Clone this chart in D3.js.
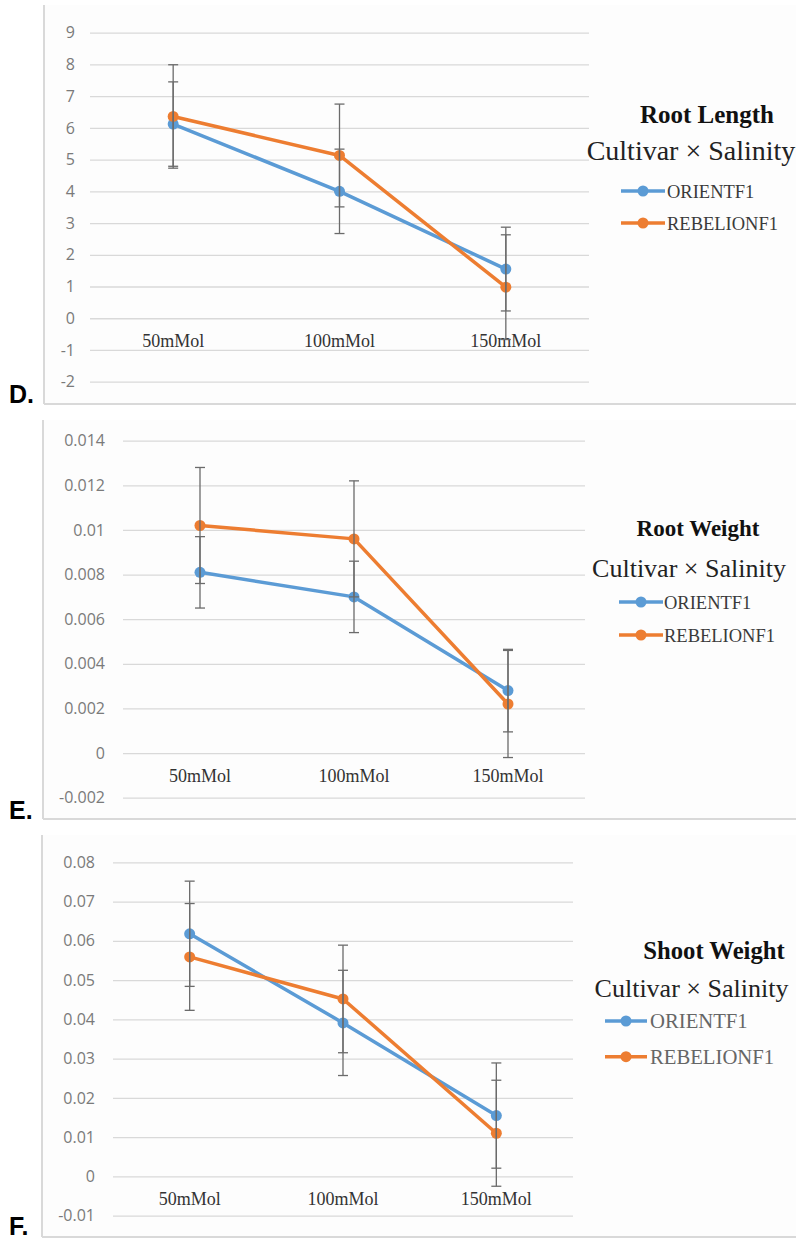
<!DOCTYPE html>
<html>
<head>
<meta charset="utf-8">
<script src="https://cdn.jsdelivr.net/npm/d3@7/dist/d3.min.js"></script>
<style>
  html, body { margin: 0; padding: 0; background: #ffffff; }
  svg { display: block; }
</style>
</head>
<body>
<svg id="chart" width="796" height="1239"></svg>
<script>
// ---------- DATA ----------
const categories = ["50mMol", "100mMol", "150mMol"];
const seriesNames = ["ORIENTF1", "REBELIONF1"];

// D. Root Length
const rootLengthTicks = [-2, -1, 0, 1, 2, 3, 4, 5, 6, 7, 8, 9];
const rootLengthOrient = [6.12, 4.00, 1.55];
const rootLengthOrientErr = [1.33, 1.33, 1.32];
const rootLengthRebel = [6.36, 5.13, 0.98];
const rootLengthRebelErr = [1.63, 1.62, 1.65];

// E. Root Weight
const rootWeightTicks = [-0.002, 0, 0.002, 0.004, 0.006, 0.008, 0.01, 0.012, 0.014];
const rootWeightOrient = [0.0081, 0.0070, 0.0028];
const rootWeightOrientErr = [0.0016, 0.0016, 0.00185];
const rootWeightRebel = [0.0102, 0.0096, 0.0022];
const rootWeightRebelErr = [0.0026, 0.0026, 0.0024];

// F. Shoot Weight
const shootWeightTicks = [-0.01, 0, 0.01, 0.02, 0.03, 0.04, 0.05, 0.06, 0.07, 0.08];
const shootWeightOrient = [0.0618, 0.0391, 0.0155];
const shootWeightOrientErr = [0.0134, 0.0134, 0.0134];
const shootWeightRebel = [0.0559, 0.0452, 0.0110];
const shootWeightRebelErr = [0.0136, 0.0137, 0.0135];

const panelLabels = ["D.", "E.", "F."];
const panelTitles = ["Root Length", "Root Weight", "Shoot Weight"];
const legendSubtitle = "Cultivar \u00d7 Salinity";

// ---------- STYLE / LAYOUT ----------
const seriesColors = ["#5B9BD5", "#ED7D31"];

const panels = [
  {
    label: panelLabels[0], title: panelTitles[0], ticks: rootLengthTicks,
    series: [
      { name: seriesNames[0], values: rootLengthOrient, errors: rootLengthOrientErr },
      { name: seriesNames[1], values: rootLengthRebel, errors: rootLengthRebelErr }
    ],
    frame: { x: 44, top: 5, bottom: 404 },
    plot: { left: 90, right: 589, yTopPx: 32.7, yBottomPx: 381.7 },
    tickLabelRight: 75,
    labelBaseline: 403,
    legend: { titleX: 707, titleY: 122.5, titleSize: 25, subX: 691, subY: 160, subSize: 28,
              lineX1: 621, lineX2: 665, textX: 667, rowY: [191, 223], itemSize: 18.5, itemColor: "#3a3a3a" }
  },
  {
    label: panelLabels[1], title: panelTitles[1], ticks: rootWeightTicks,
    series: [
      { name: seriesNames[0], values: rootWeightOrient, errors: rootWeightOrientErr },
      { name: seriesNames[1], values: rootWeightRebel, errors: rootWeightRebelErr }
    ],
    frame: { x: 43, top: 420, bottom: 819 },
    plot: { left: 123, right: 585, yTopPx: 440.7, yBottomPx: 797.7 },
    tickLabelRight: 105,
    labelBaseline: 819,
    legend: { titleX: 698, titleY: 535.5, titleSize: 23, subX: 689, subY: 577, subSize: 26,
              lineX1: 619, lineX2: 663, textX: 664, rowY: [602, 635], itemSize: 18.5, itemColor: "#3a3a3a" }
  },
  {
    label: panelLabels[2], title: panelTitles[2], ticks: shootWeightTicks,
    series: [
      { name: seriesNames[0], values: shootWeightOrient, errors: shootWeightOrientErr },
      { name: seriesNames[1], values: shootWeightRebel, errors: shootWeightRebelErr }
    ],
    frame: { x: 42, top: 835, bottom: 1237 },
    plot: { left: 113, right: 573, yTopPx: 862.3, yBottomPx: 1215.7 },
    tickLabelRight: 95,
    labelBaseline: 1235,
    legend: { titleX: 714, titleY: 959, titleSize: 24.7, subX: 691.5, subY: 996.5, subSize: 26,
              lineX1: 605, lineX2: 647, textX: 650, rowY: [1021, 1056.7], itemSize: 20.7, itemColor: "#666666" }
  }
];

const svg = d3.select("#chart");

panels.forEach(p => {
  const g = svg.append("g");

  // frame (left + bottom border), light fill
  g.append("rect")
    .attr("x", p.frame.x).attr("y", p.frame.top)
    .attr("width", 796 - p.frame.x).attr("height", p.frame.bottom - p.frame.top)
    .attr("fill", "#fdfdfd");
  g.append("line")
    .attr("x1", p.frame.x).attr("x2", p.frame.x)
    .attr("y1", p.frame.top).attr("y2", p.frame.bottom)
    .attr("stroke", "#d9d9d9").attr("stroke-width", 2);
  g.append("line")
    .attr("x1", p.frame.x).attr("x2", 796)
    .attr("y1", p.frame.bottom).attr("y2", p.frame.bottom)
    .attr("stroke", "#d9d9d9").attr("stroke-width", 2);

  const yMin = d3.min(p.ticks), yMax = d3.max(p.ticks);
  const y = d3.scaleLinear().domain([yMin, yMax]).range([p.plot.yBottomPx, p.plot.yTopPx]);
  const x = d3.scaleBand().domain(categories).range([p.plot.left, p.plot.right]);
  const cx = c => x(c) + x.bandwidth() / 2;

  // gridlines
  const grid = g.append("g")
    .attr("transform", `translate(${p.plot.left},0)`)
    .call(d3.axisLeft(y).tickValues(p.ticks).tickSize(-(p.plot.right - p.plot.left)).tickFormat(""));
  grid.select(".domain").remove();
  grid.selectAll(".tick line").attr("stroke", "#d9d9d9").attr("stroke-width", 1.3);

  // y tick labels
  const yl = g.append("g")
    .attr("transform", `translate(${p.tickLabelRight},0)`)
    .call(d3.axisLeft(y).tickValues(p.ticks).tickSize(0).tickPadding(0).tickFormat(d => String(d)));
  yl.select(".domain").remove();
  yl.selectAll("text")
    .attr("font-family", "'Open Sans', sans-serif")
    .attr("font-size", 16)
    .attr("fill", "#7a7a7a");

  // category labels
  const xl = g.append("g")
    .attr("transform", `translate(0,${y(0)})`)
    .call(d3.axisBottom(x).tickSize(0).tickPadding(16));
  xl.select(".domain").remove();
  xl.selectAll("text")
    .attr("font-family", "'Liberation Serif', 'Times New Roman', serif")
    .attr("font-size", 18)
    .attr("fill", "#333333");

  // series lines and markers
  p.series.forEach((s, i) => {
    const pts = categories.map((c, k) => ({ c, v: s.values[k], e: s.errors[k] }));
    g.append("path")
      .datum(pts)
      .attr("fill", "none")
      .attr("stroke", seriesColors[i])
      .attr("stroke-width", 3.5)
      .attr("stroke-linejoin", "round")
      .attr("d", d3.line().x(d => cx(d.c)).y(d => y(d.v)));
    g.selectAll(null).data(pts).enter().append("circle")
      .attr("cx", d => cx(d.c)).attr("cy", d => y(d.v))
      .attr("r", 5.5).attr("fill", seriesColors[i]);
  });

  // error bars on top
  p.series.forEach(s => {
    const pts = categories.map((c, k) => ({ c, v: s.values[k], e: s.errors[k] }));
    const eb = g.selectAll(null).data(pts).enter().append("g").attr("stroke", "#6b6b6b").attr("stroke-width", 1.3);
    eb.append("line")
      .attr("x1", d => cx(d.c)).attr("x2", d => cx(d.c))
      .attr("y1", d => y(d.v + d.e)).attr("y2", d => y(d.v - d.e));
    eb.append("line")
      .attr("x1", d => cx(d.c) - 5).attr("x2", d => cx(d.c) + 5)
      .attr("y1", d => y(d.v + d.e)).attr("y2", d => y(d.v + d.e));
    eb.append("line")
      .attr("x1", d => cx(d.c) - 5).attr("x2", d => cx(d.c) + 5)
      .attr("y1", d => y(d.v - d.e)).attr("y2", d => y(d.v - d.e));
  });

  // legend
  const L = p.legend;
  g.append("text")
    .attr("x", L.titleX).attr("y", L.titleY)
    .attr("text-anchor", "middle")
    .attr("font-family", "'Liberation Serif', 'Times New Roman', serif")
    .attr("font-weight", "bold")
    .attr("font-size", L.titleSize)
    .attr("fill", "#111111")
    .text(p.title);
  g.append("text")
    .attr("x", L.subX).attr("y", L.subY)
    .attr("text-anchor", "middle")
    .attr("font-family", "'Liberation Serif', 'Times New Roman', serif")
    .attr("font-size", L.subSize)
    .attr("fill", "#222222")
    .text(legendSubtitle);
  p.series.forEach((s, i) => {
    const ry = L.rowY[i];
    g.append("line")
      .attr("x1", L.lineX1).attr("x2", L.lineX2)
      .attr("y1", ry).attr("y2", ry)
      .attr("stroke", seriesColors[i]).attr("stroke-width", 3.5);
    g.append("circle")
      .attr("cx", (L.lineX1 + L.lineX2) / 2).attr("cy", ry)
      .attr("r", 5.5).attr("fill", seriesColors[i]);
    g.append("text")
      .attr("x", L.textX).attr("y", ry + L.itemSize * 0.36)
      .attr("font-family", "'Liberation Serif', 'Times New Roman', serif")
      .attr("font-size", L.itemSize)
      .attr("fill", L.itemColor)
      .text(s.name);
  });

  // panel letter
  svg.append("text")
    .attr("x", 9).attr("y", p.labelBaseline)
    .attr("font-family", "'Liberation Sans', Arial, sans-serif")
    .attr("font-weight", "bold")
    .attr("font-size", 25)
    .attr("fill", "#000000")
    .text(p.label);
});
</script>
</body>
</html>
